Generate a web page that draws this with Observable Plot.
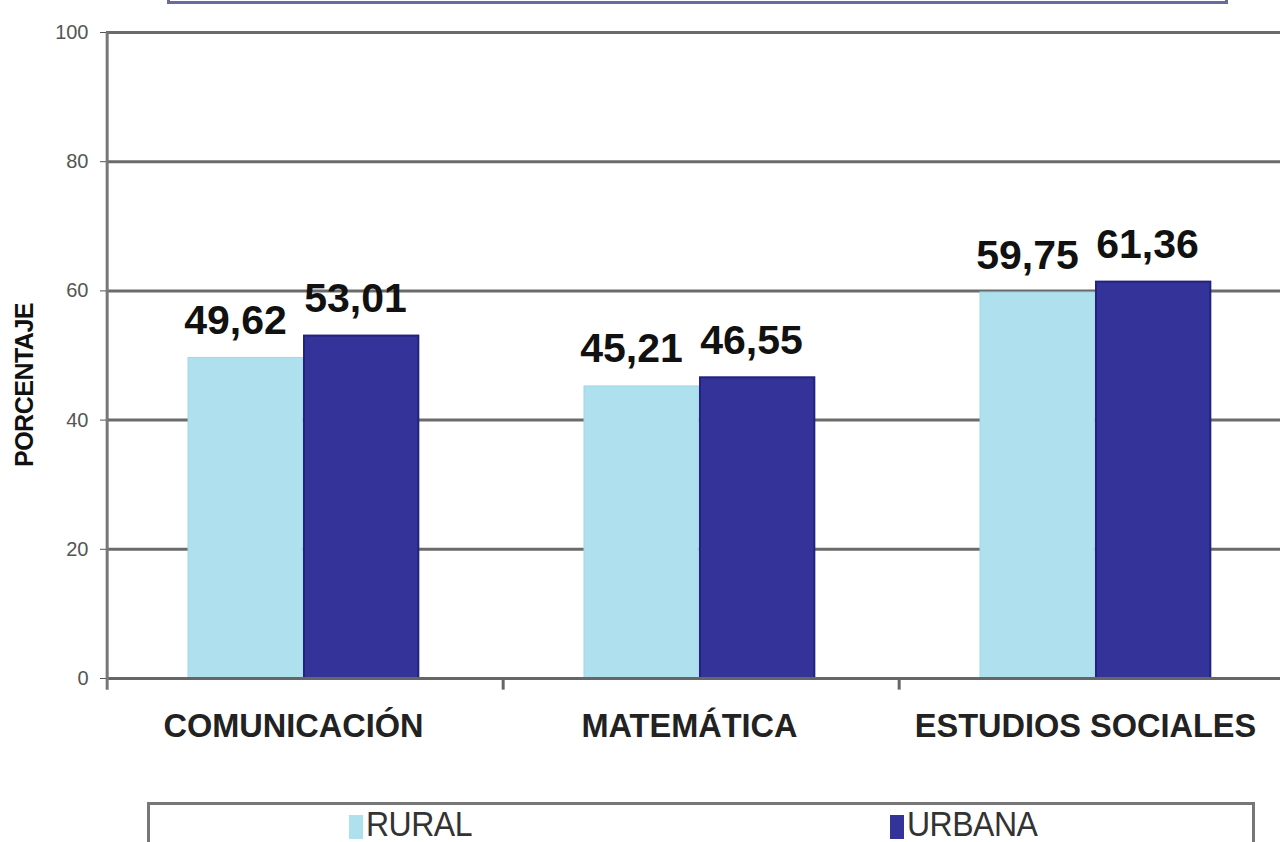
<!DOCTYPE html>
<html>
<head>
<meta charset="utf-8">
<script src="https://cdn.jsdelivr.net/npm/d3@7"></script>
<script src="https://cdn.jsdelivr.net/npm/@observablehq/plot@0.6"></script>
<style>
  html, body { margin: 0; padding: 0; background: #fff; }
  body { width: 1280px; height: 842px; overflow: hidden; position: relative; font-family: "Liberation Sans", Arial, sans-serif; }
  #chart { position: absolute; left: 0; top: 0; width: 1300px; }
  #chart svg { max-width: none !important; }
  #titlebox { position: absolute; left: 167px; top: -40px; width: 1055px; height: 38px; border: 3px solid #6a6aa3; }
  #ylabel { position: absolute; left: 24px; top: 385px; transform: translate(-50%, -50%) rotate(-90deg); font-weight: bold; font-size: 25px; color: #111; white-space: nowrap; letter-spacing: -0.5px; }
  #legend { position: absolute; left: 147px; top: 802px; width: 1102px; height: 60px; border: 3px solid #777; border-bottom: none; }
  .item { position: absolute; top: 1px; display: flex; align-items: flex-start; }
  .sw { width: 14px; height: 24px; margin-top: 9px; margin-right: 3px; }
  .lt { font-size: 32px; line-height: 32px; color: #333; letter-spacing: -0.5px; transform: scaleY(1.1); transform-origin: top left; }
</style>
</head>
<body>
<div id="titlebox"></div>
<div id="chart"></div>
<div id="ylabel">PORCENTAJE</div>
<div id="legend"></div>
<script>
const categories = ["COMUNICACIÓN", "MATEMÁTICA", "ESTUDIOS SOCIALES"];
const series = ["RURAL", "URBANA"];
const rural = [49.62, 45.21, 59.75];
const urbana = [53.01, 46.55, 61.36];
const yTicks = [0, 20, 40, 60, 80, 100];
const colors = ["#aee0ee", "#333399"];
const yLabel = "PORCENTAJE";

const rows = [];
categories.forEach((c, i) => {
  rows.push({category: c, series: series[0], value: rural[i]});
  rows.push({category: c, series: series[1], value: urbana[i]});
});
const ruralRows = rows.filter(d => d.series === series[0]);
const urbanRows = rows.filter(d => d.series === series[1]);
const fmt = d => d.value.toFixed(2).replace(".", ",");

const W = 1300, mL = 106, mR = 4;
const bw = (W - mL - mR) / categories.length;
const barW = 115;
const ruralIn = 81, urbanIn = 197;

const chart = Plot.plot({
  width: W,
  height: 790,
  marginLeft: mL,
  marginRight: mR,
  marginTop: 32,
  marginBottom: 112,
  x: {domain: categories, padding: 0, label: null},
  y: {domain: [0, 100], label: null},
  color: {domain: series, range: colors},
  style: {fontFamily: "'Liberation Sans', Arial, sans-serif", background: "transparent", maxWidth: "none"},
  marks: [
    Plot.gridY(yTicks, {stroke: "#6b6b6b", strokeOpacity: 1, strokeWidth: 3}),
    Plot.barY(ruralRows, {x: "category", y: "value", fill: "series", insetLeft: ruralIn, insetRight: bw - ruralIn - barW, stroke: "#9fd6e6", strokeWidth: 1}),
    Plot.barY(urbanRows, {x: "category", y: "value", fill: "series", insetLeft: urbanIn, insetRight: bw - urbanIn - barW, stroke: "#23237f", strokeWidth: 2}),
    Plot.ruleY([0], {stroke: "#666", strokeWidth: 3}),
    Plot.ruleX([categories[0]], {x: d => d, dx: -bw / 2, y1: -1.8, y2: 100, stroke: "#777", strokeWidth: 3}),
    Plot.ruleX(categories.slice(1), {x: d => d, dx: -bw / 2, y1: -1.8, y2: 0, stroke: "#666", strokeWidth: 3}),
    Plot.text(ruralRows, {x: "category", y: "value", text: fmt, dx: -70, dy: -24, lineAnchor: "bottom", fontSize: 41, fontWeight: "bold", fill: "#111"}),
    Plot.text(urbanRows, {x: "category", y: "value", text: fmt, dx: 50, dy: -24, lineAnchor: "bottom", fontSize: 41, fontWeight: "bold", fill: "#111"}),
    Plot.axisY({ticks: yTicks, tickSize: 6, tickPadding: 12, fontSize: 20, color: "#555", label: null}),
    Plot.axisX({tickSize: 0, tickPadding: 35, fontSize: 32.5, fontWeight: "bold", fill: "#222", label: null, dx: -12})
  ]
});
document.getElementById("chart").appendChild(chart);

const legend = document.getElementById("legend");
const legendX = [199, 740];
series.forEach((s, i) => {
  const it = document.createElement("div");
  it.className = "item";
  it.style.left = legendX[i] + "px";
  it.innerHTML = `<div class="sw" style="background:${colors[i]}"></div><div class="lt">${s}</div>`;
  legend.appendChild(it);
});
</script>
</body>
</html>
